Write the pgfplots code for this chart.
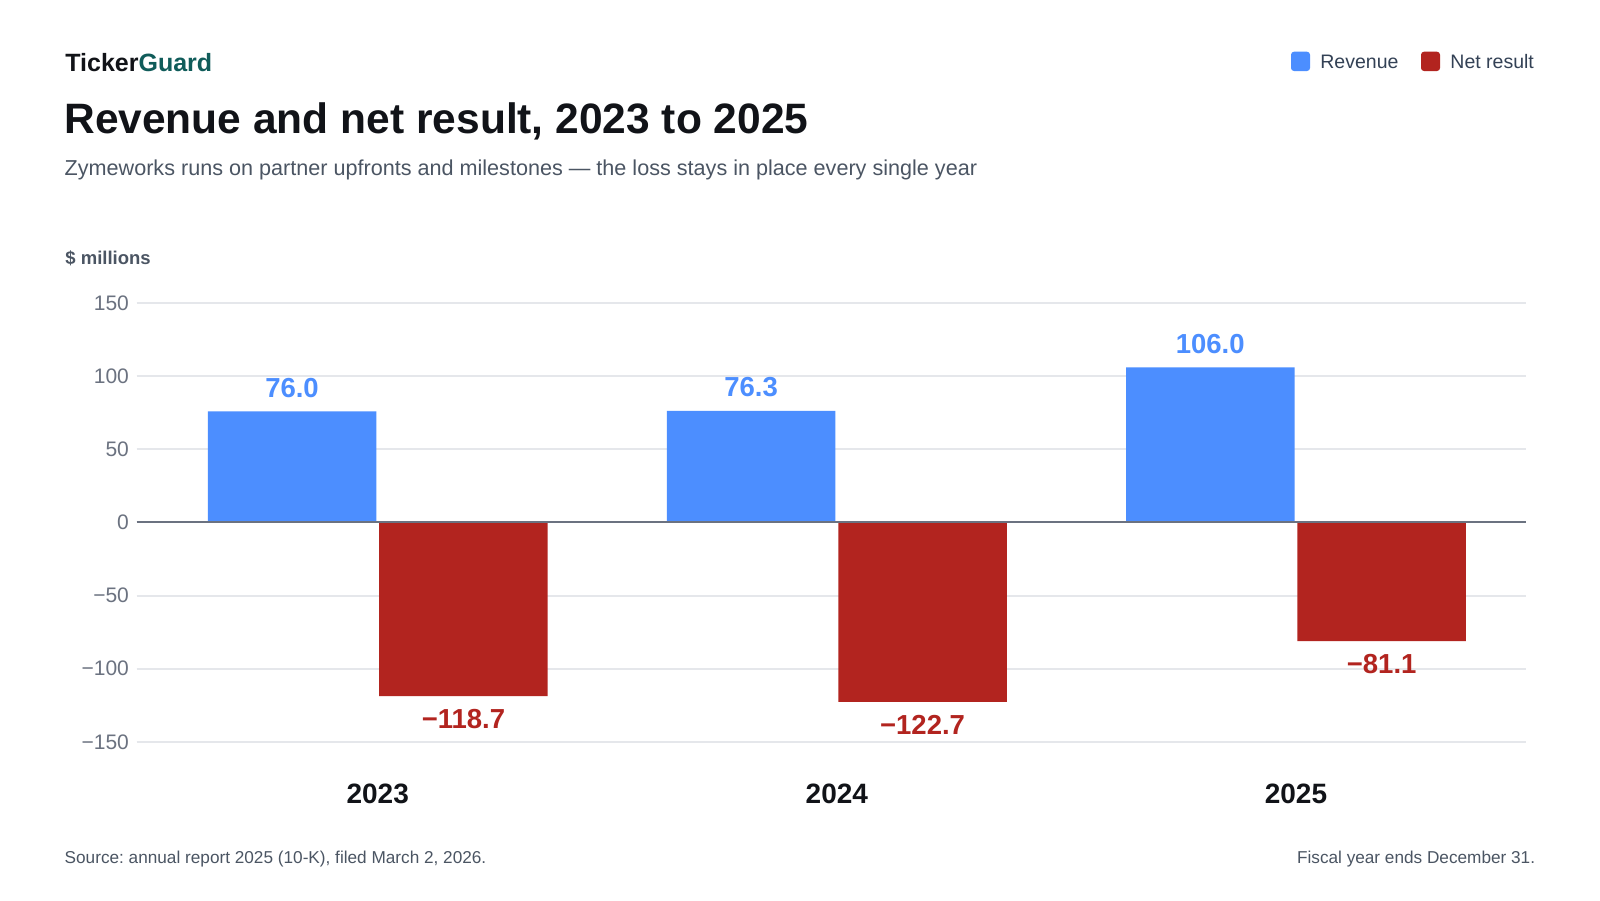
\documentclass[border=0pt]{standalone}
\usepackage{pgfplots}
\pgfplotsset{compat=1.18}
\usepackage{fontspec}
\setmainfont{Liberation Sans}
\definecolor{barblue}{RGB}{76,142,255}
\definecolor{barred}{RGB}{178,36,31}
\definecolor{ink}{RGB}{17,19,24}
\definecolor{teal}{RGB}{16,92,90}
\definecolor{subgray}{RGB}{75,85,99}
\definecolor{tickgray}{RGB}{107,114,128}
\definecolor{leggray}{RGB}{51,65,85}
\definecolor{gridc}{RGB}{229,231,235}
\definecolor{zeroc}{RGB}{107,114,128}
\frenchspacing
\begin{document}
\begin{tikzpicture}
\begin{scope}[x=0.5pt,y=-0.5pt]
\fill[white] (0,0) rectangle (1600,900);
\useasboundingbox (0,0) rectangle (1600,900);
\node[anchor=base west, inner sep=0pt, font=\bfseries\fontsize{12.5}{15}\selectfont] at (65,71) {\textcolor{ink}{Ticker}\textcolor{teal}{Guard}};
\node[anchor=base west, inner sep=0pt, text=ink, font=\bfseries\fontsize{21.25}{25}\selectfont] at (64,133.3) {Revenue and net result, 2023 to 2025};
\node[anchor=base west, inner sep=0pt, text=subgray, font=\fontsize{10.8}{13}\selectfont] at (64.3,175.7) {Zymeworks runs on partner upfronts and milestones — the loss stays in place every single year};
\node[anchor=base west, inner sep=0pt, text=subgray, font=\bfseries\fontsize{9.25}{11}\selectfont] at (65,264.3) {\$ millions};
% legend
\fill[barblue, rounded corners=1.5pt] (1291,51.7) rectangle (1310,71);
\node[anchor=base west, inner sep=0pt, text=leggray, font=\fontsize{9.75}{12}\selectfont] at (1320,68.3) {Revenue};
\fill[barred, rounded corners=1.5pt] (1421,51.7) rectangle (1440,71);
\node[anchor=base west, inner sep=0pt, text=leggray, font=\fontsize{9.75}{12}\selectfont] at (1450,68.3) {Net result};
% footer
\node[anchor=base west, inner sep=0pt, text=subgray, font=\fontsize{8.6}{10}\selectfont] at (64.3,863.3) {Source: annual report 2025 (10-K), filed March 2, 2026.};
\node[anchor=base east, inner sep=0pt, text=subgray, font=\fontsize{8.6}{10}\selectfont] at (1535.5,863.3) {Fiscal year ends December 31.};
\end{scope}
\begin{axis}[
  at={(68.35pt,-370.9pt)}, anchor=south west,
  scale only axis, width=694.4pt, height=219.4pt,
  xmin=-0.525, xmax=2.5, ymin=-150, ymax=150,
  axis line style={draw=none}, major tick length=0pt,
  ytick={-150,-100,-50,0,50,100,150},
  yticklabels={−150,−100,−50,0,50,100,150},
  ymajorgrids, grid style={gridc, line width=1pt},
  xtick={0,1,2}, xticklabels={2023,2024,2025},
  yticklabel style={font=\fontsize{10.5}{12}\selectfont, text=tickgray, anchor=east, inner sep=0pt, xshift=-3.7pt},
  xticklabel style={font=\bfseries\fontsize{14}{16}\selectfont, text=ink, anchor=center, inner sep=0pt, yshift=-26.1pt},
  clip=false,
  ybar, bar width=84.25pt,
  nodes near coords, point meta=explicit symbolic,
]
\addplot[fill=barblue, draw=none, bar shift=-42.85pt,
  every node near coord/.append style={font=\bfseries\fontsize{13.75}{16}\selectfont, text=barblue, anchor=center, inner sep=0pt, yshift=11.7pt}]
  coordinates {(0,76.0) [76.0] (1,76.3) [76.3] (2,106.0) [106.0]};
\addplot[fill=barred, draw=none, bar shift=42.85pt,
  every node near coord/.append style={font=\bfseries\fontsize{13.75}{16}\selectfont, text=barred, anchor=center, inner sep=0pt, yshift=-11.5pt}]
  coordinates {(0,-118.7) [−118.7] (1,-122.7) [−122.7] (2,-81.1) [−81.1]};
\draw[zeroc, line width=1pt] (axis cs:-0.525,0) -- (axis cs:2.5,0);
\end{axis}
\end{tikzpicture}
\end{document}
